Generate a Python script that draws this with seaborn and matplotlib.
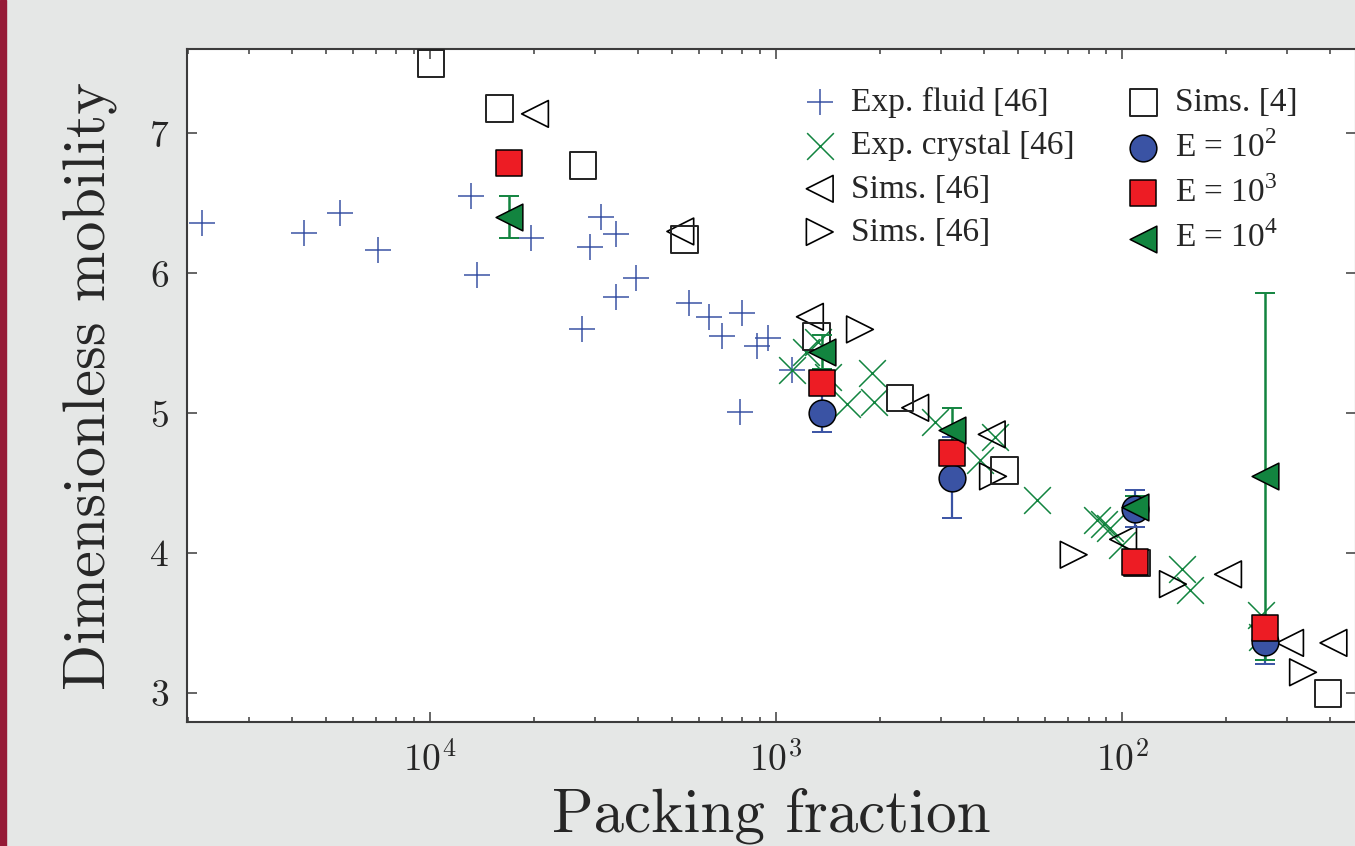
import numpy as np
import seaborn as sns
import matplotlib
matplotlib.use("Agg")
from matplotlib import pyplot as plt
from matplotlib.patches import Rectangle
from matplotlib.ticker import FixedLocator, FixedFormatter, LogLocator, NullFormatter

# x values are packing values as labelled on the axis, y is mobility
fluid_x = [45600, 23100, 18200, 14100, 7610, 7310, 5100, 3640, 3450, 3210, 2900,
           2900, 2540, 1780, 1560, 1430, 1250, 1135, 1055, 1270, 900]
fluid_y = [6.36, 6.29, 6.43, 6.17, 6.55, 5.99, 6.25, 5.60, 6.19, 6.40, 6.28,
           5.83, 5.97, 5.79, 5.69, 5.55, 5.72, 5.48, 5.54, 5.01, 5.31]

crystal_x = [900, 818, 757, 708, 624, 528, 521, 347, 257, 233, 176, 118, 113, 108,
             100, 67.1, 63.6, 39.6, 39.4]
crystal_y = [5.31, 5.44, 5.51, 5.26, 5.07, 5.29, 5.08, 4.94, 4.67, 4.83, 4.38, 4.24,
             4.21, 4.18, 4.06, 3.89, 3.74, 3.56, 3.40]

sims_left_x = [4970, 1890, 798, 396, 238, 99.3, 49.4, 32.7, 24.5]
sims_left_y = [7.14, 6.30, 5.69, 5.04, 4.85, 4.10, 3.85, 3.36, 3.36]

sims_right_x = [572, 236, 138, 71.3, 30.0]
sims_right_y = [5.60, 4.55, 3.99, 3.78, 3.15]

sims4_x = [9930, 6280, 3610, 1840, 762, 438, 219, 90.6, 25.4]
sims4_y = [7.50, 7.18, 6.77, 6.24, 5.55, 5.11, 4.59, 3.93, 3.00]

e2_x = [736, 310, 91.6, 38.6]
e2_y = [5.00, 4.54, 4.32, 3.37]
e2_err = [0.13, 0.29, 0.13, 0.16]

e3_x = [5910, 736, 310, 91.6, 38.6]
e3_y = [6.79, 5.22, 4.72, 3.94, 3.47]

e4_x = [5910, 736, 310, 91.6, 38.6]
e4_y = [6.40, 5.44, 4.88, 4.33, 4.55]
e4_err = [0.15, 0.12, 0.16, 0.08, 1.31]

x_ticks = [1e4, 1e3, 1e2]
x_tick_labels = ["$10^4$", "$10^3$", "$10^2$"]
y_ticks = [3, 4, 5, 6, 7]


def to_axis(v):
    # axis runs the other way round: big packing values on the left
    return 1e8 / np.asarray(v, dtype=float)


sns.set_style("ticks")
plt.rcParams["mathtext.fontset"] = "cm"
plt.rcParams["mathtext.rm"] = "Liberation Serif"
plt.rcParams["font.family"] = ["cmr10", "DejaVu Serif"]
plt.rcParams["axes.formatter.use_mathtext"] = True

blue = "#3a53a4"
green = "#12843f"
red = "#ed1c24"
bg = "#e5e7e6"

fig = plt.figure(figsize=(13.55, 8.46), dpi=100, facecolor=bg)
fig.patches.append(Rectangle((0, 0), 6 / 1355, 1, transform=fig.transFigure,
                             color="#961a37", zorder=0))
ax = fig.add_axes([187 / 1355, (846 - 721.7) / 846, (1356 - 187) / 1355, (721.7 - 49.5) / 846])
ax.set_facecolor("white")
ax.set_xscale("log")

ms = 370
sns.scatterplot(x=to_axis(fluid_x), y=fluid_y, marker="+", s=ms, color=blue,
                linewidth=1.1, ax=ax, label="Exp. fluid [46]", zorder=3)
sns.scatterplot(x=to_axis(crystal_x), y=crystal_y, marker="x", s=ms, color=green,
                linewidth=1.1, ax=ax, label="Exp. crystal [46]", zorder=3)
sns.scatterplot(x=to_axis(sims_left_x), y=sims_left_y, marker="<", s=ms, facecolor="none",
                edgecolor="black", linewidth=1.2, ax=ax, label="Sims. [46]", zorder=3)
sns.scatterplot(x=to_axis(sims_right_x), y=sims_right_y, marker=">", s=ms, facecolor="none",
                edgecolor="black", linewidth=1.2, ax=ax, label="Sims. [46]", zorder=3)
sns.scatterplot(x=to_axis(sims4_x), y=sims4_y, marker="s", s=ms, facecolor="none",
                edgecolor="#222222", linewidth=1.4, ax=ax, label="Sims. [4]", zorder=3)

ax.errorbar(to_axis(e2_x), e2_y, yerr=e2_err, fmt="none", ecolor=blue, elinewidth=1.6,
            capsize=7, capthick=1.4, zorder=4)
ax.errorbar(to_axis(e4_x), e4_y, yerr=e4_err, fmt="none", ecolor=green, elinewidth=1.8,
            capsize=7, capthick=1.4, zorder=4)

sns.scatterplot(x=to_axis(e2_x), y=e2_y, marker="o", s=ms, color=blue, edgecolor="black",
                linewidth=1.1, ax=ax, label="E = 10$^2$", zorder=5)
sns.scatterplot(x=to_axis(e3_x), y=e3_y, marker="s", s=ms, color=red, edgecolor="black",
                linewidth=1.1, ax=ax, label="E = 10$^3$", zorder=6)
sns.scatterplot(x=to_axis(e4_x), y=e4_y, marker="<", s=ms, color=green, edgecolor="black",
                linewidth=1.1, ax=ax, label="E = 10$^4$", zorder=7)

ax.set_xlim(10 ** 3.298, 10 ** 6.676)
ax.set_ylim(2.797, 7.6)

ax.xaxis.set_major_locator(FixedLocator(to_axis(x_ticks)))
ax.xaxis.set_major_formatter(FixedFormatter(x_tick_labels))
ax.xaxis.set_minor_locator(LogLocator(base=10, subs=np.arange(2, 10)))
ax.xaxis.set_minor_formatter(NullFormatter())
ax.set_yticks(y_ticks)
ax.set_yticklabels([f"${t}$" for t in y_ticks])
ax.yaxis.set_minor_locator(FixedLocator([]))

for side in ax.spines.values():
    side.set_color("#3c3c3c")
    side.set_linewidth(1.5)
ax.tick_params(which="both", direction="in", top=True, right=True, color="#3c3c3c", width=1.1)
ax.tick_params(which="major", length=7.5, labelsize=27)
ax.tick_params(axis="x", which="major", pad=14)
ax.tick_params(axis="y", which="major", pad=13)
ax.tick_params(which="minor", length=3.8)

ax.set_xlabel("Packing fraction", fontsize=44, labelpad=7)
ax.set_ylabel("Dimensionless mobility", fontsize=43.5, labelpad=22)

leg = ax.legend(ncol=2, loc="upper left", bbox_to_anchor=(0.527, 0.944), frameon=False,
                prop={"family": "Liberation Serif", "size": 24}, handlelength=1.0,
                handletextpad=0.45, columnspacing=1.55, labelspacing=0.38, borderpad=0,
                borderaxespad=0, scatterpoints=1)
for t in leg.get_texts():
    t.set_math_fontfamily("custom")

fig.savefig("out.png", dpi=100, facecolor=bg)
